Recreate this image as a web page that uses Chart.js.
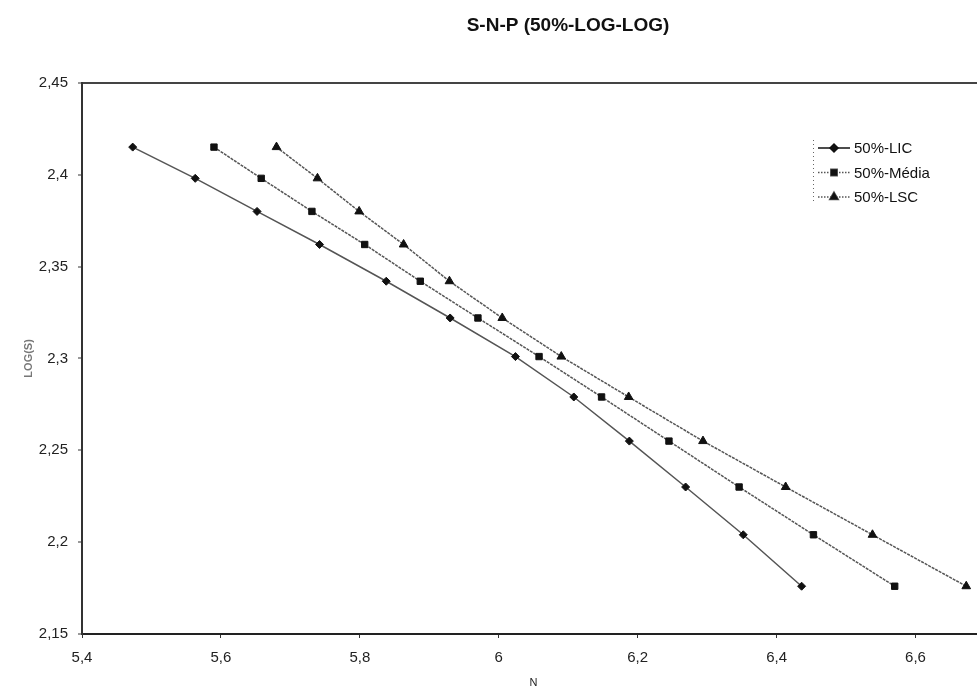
<!DOCTYPE html>
<html>
<head>
  <title>S-N-P (50%-LOG-LOG)</title>
  <script src="https://cdn.jsdelivr.net/npm/chart.js"></script>
  <style>
    body { margin: 0; background: #fff; overflow: hidden; }
    #wrap { width: 1136px; height: 693px; }
  </style>
</head>
<body>
  <div id="wrap"><canvas id="snp"></canvas></div>

  <script>
    // log10 of stress levels 260..150
    const logS = [2.415, 2.398, 2.380, 2.362, 2.342, 2.322, 2.301, 2.279, 2.255, 2.230, 2.204, 2.176];
    const nLic = [5.473, 5.563, 5.652, 5.742, 5.838, 5.930, 6.024, 6.108, 6.188, 6.269, 6.352, 6.436];
    const nMedia = [5.590, 5.658, 5.731, 5.807, 5.887, 5.970, 6.058, 6.148, 6.245, 6.346, 6.453, 6.570];
    const nLsc = [5.680, 5.739, 5.799, 5.863, 5.929, 6.005, 6.090, 6.187, 6.294, 6.413, 6.538, 6.673];
    const seriesNames = ['50%-LIC', '50%-Média', '50%-LSC'];

    const pts = xs => xs.map((x, i) => ({ x: x, y: logS[i] }));
    const comma = v => String(Math.round(v * 100) / 100).replace('.', ',');
    const FONT = '"Liberation Sans", Arial, sans-serif';

    const styles = [
      { point: 'rectRot', r: 4, dash: [] },
      { point: 'rect', r: 4.5, dash: [3, 1] },
      { point: 'triangle', r: 5, dash: [3, 1] }
    ];

    const mkSet = (label, xs, st) => ({
      label: label,
      data: pts(xs),
      showLine: true,
      borderColor: '#555',
      borderWidth: 1.5,
      borderDash: st.dash,
      pointStyle: st.point,
      pointRadius: st.r,
      pointBackgroundColor: '#111',
      pointBorderColor: '#111',
      pointBorderWidth: 1,
      tension: 0
    });

    // legend drawn inside the plot, like the original
    const boxLegend = {
      id: 'boxLegend',
      afterDraw(chart) {
        const ctx = chart.ctx;
        ctx.save();
        ctx.strokeStyle = '#666';
        ctx.lineWidth = 1;
        ctx.setLineDash([1, 3]);
        ctx.beginPath();
        ctx.moveTo(813.5, 140);
        ctx.lineTo(813.5, 203);
        ctx.stroke();
        ctx.font = '15px ' + FONT;
        ctx.textBaseline = 'middle';
        seriesNames.forEach((name, i) => {
          const y = 148 + i * 24.5;
          const st = styles[i];
          ctx.strokeStyle = i === 0 ? '#111' : '#555';
          ctx.lineWidth = 1.5;
          ctx.setLineDash(i === 0 ? [] : [1.5, 1.5]);
          ctx.beginPath();
          ctx.moveTo(818, y);
          ctx.lineTo(850, y);
          ctx.stroke();
          ctx.setLineDash([]);
          Chart.helpers.drawPoint(ctx, {
            pointStyle: st.point, radius: st.r, borderWidth: 1
          }, 834, y);
          ctx.fillStyle = '#111';
          ctx.fill();
          ctx.fillText(name, 854, y + 1);
        });
        ctx.restore();
      }
    };

    new Chart(document.getElementById('snp'), {
      type: 'scatter',
      data: {
        datasets: [
          mkSet(seriesNames[0], nLic, styles[0]),
          mkSet(seriesNames[1], nMedia, styles[1]),
          mkSet(seriesNames[2], nLsc, styles[2])
        ]
      },
      options: {
        animation: false,
        responsive: true,
        maintainAspectRatio: false,
        layout: { padding: 0 },
        plugins: {
          legend: { display: false },
          tooltip: { enabled: false },
          title: {
            display: true,
            text: 'S-N-P (50%-LOG-LOG)',
            color: '#111',
            font: { family: FONT, size: 19, weight: 'bold' },
            padding: { top: 14, bottom: 46 }
          }
        },
        scales: {
          x: {
            type: 'linear',
            min: 5.4,
            max: 6.7,
            afterFit: s => { s.height = 59; },
            border: { color: '#222', width: 2 },
            grid: { display: true, drawOnChartArea: false, tickLength: 4, color: '#333' },
            ticks: {
              stepSize: 0.2,
              includeBounds: false,
              padding: 11,
              color: '#222',
              font: { family: FONT, size: 15 },
              callback: v => comma(v)
            },
            title: {
              display: true,
              text: 'N',
              color: '#222',
              font: { family: FONT, size: 11 },
              padding: { top: 0, bottom: 3 }
            }
          },
          y: {
            min: 2.15,
            max: 2.45,
            afterFit: s => { s.width = 82; },
            border: { color: '#333', width: 2 },
            grid: {
              tickLength: 4,
              tickColor: '#999',
              color: ctx => (ctx.tick && Math.abs(ctx.tick.value - 2.45) < 1e-6) ? '#444' : 'rgba(0,0,0,0)',
              lineWidth: 2
            },
            ticks: {
              stepSize: 0.05,
              padding: 10,
              color: '#222',
              font: { family: FONT, size: 15 },
              callback: v => comma(v)
            },
            title: {
              display: true,
              text: 'LOG(S)',
              color: '#777',
              font: { family: FONT, size: 11, weight: 'bold' },
              padding: { top: 22, bottom: 0 }
            }
          },
          // empty right margin of the original (cropped) chart
          yRight: {
            position: 'right',
            min: 2.15,
            max: 2.45,
            afterFit: s => { s.width = 151; },
            border: { display: false },
            grid: { display: false },
            ticks: { display: false }
          }
        }
      },
      plugins: [boxLegend]
    });
  </script>
</body>
</html>
